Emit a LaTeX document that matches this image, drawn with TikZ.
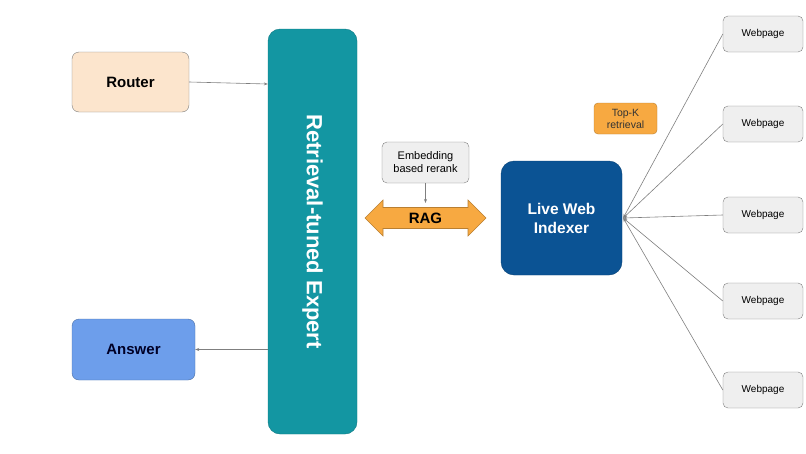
\documentclass[tikz,border=0pt]{standalone}
\usepackage{fontspec}
\setmainfont{Liberation Sans}
\usepackage{tikz}
\usetikzlibrary{arrows.meta, positioning, calc}
\usepackage{xcolor}
\definecolor{routerfill}{HTML}{FCE5CD}
\definecolor{answerfill}{HTML}{6D9EEB}
\definecolor{expertfill}{HTML}{1396A2}
\definecolor{indexerfill}{HTML}{0B5394}
\definecolor{ragfill}{HTML}{F7A941}
\definecolor{boxgray}{HTML}{EFEFEF}
\definecolor{linegray}{HTML}{7F7F7F}
\tikzset{
    box/.style = {draw = linegray, rounded corners = 7pt, align = center, inner sep = 0pt},
    page/.style = {box, fill = boxgray, minimum width = 80pt, minimum height = 36pt, rounded corners = 5pt, font = \fontsize{10}{12}\selectfont},
    conn/.style = {draw = linegray, line width = 0.6pt, -{Stealth[length = 4pt, width = 3pt]}}
}

\begin{document}
\begin{tikzpicture}[x = 1pt, y = -1pt]
    \useasboundingbox (0,0) rectangle (806,453);
    % Blocchi a sinistra
    \node[box, fill = routerfill, minimum width = 117pt, minimum height = 60pt, font = \bfseries\fontsize{15}{17}\selectfont] (Router) at (130.5,82) {Router};
    \node[box, fill = answerfill, draw = answerfill!70!black, minimum width = 123pt, minimum height = 61pt, font = \bfseries\fontsize{15}{17}\selectfont, text = black!85!blue] (Answer) at (133.5,349.5) {Answer};
    % Esperto
    \node[box, fill = expertfill, draw = expertfill!80!black, minimum width = 89pt, minimum height = 405pt, rounded corners = 12pt] (Expert) at (312.5,231.5) {};
    \node[rotate = -90, text = white, font = \bfseries\fontsize{22}{26}\selectfont] (ExpertText) at (Expert.center) {Retrieval-tuned Expert};
    % Frecce sinistra
    \draw[conn] (Router.east) -- ($(Router.east -| Expert.west) + (0,2)$);
    \draw[conn] (Answer.east -| Expert.west) -- (Answer.east);
    % RAG
    \node[box, fill = boxgray, minimum width = 87pt, minimum height = 41pt, rounded corners = 5pt, font = \fontsize{11}{13}\selectfont] (Rerank) at (425.5,162.5) {Embedding\\based rerank};
    \coordinate (RagLeft) at (365,218);
    \coordinate (RagRight) at (486,218);
    \draw[draw = ragfill!75!black, fill = ragfill, line width = 0.6pt] (RagLeft) -- (383,200) -- (383,207.5) -- (468,207.5) -- (468,200) -- (RagRight) -- (468,236) -- (468,228.5) -- (383,228.5) -- (383,236) -- cycle;
    \node[font = \bfseries\fontsize{15}{17}\selectfont] (RAG) at ($(RagLeft)!0.5!(RagRight)$) {RAG};
    \draw[conn] (Rerank.south) -- ($(RAG.center) + (0,-15)$);
    % Indicizzatore
    \node[box, fill = indexerfill, draw = indexerfill!80!black, minimum width = 121pt, minimum height = 114pt, rounded corners = 13pt, text = white, font = \bfseries\fontsize{15.5}{19}\selectfont] (Indexer) at (561.5,218) {Live Web\\Indexer};
    \node[box, fill = ragfill, draw = ragfill!75!black, minimum width = 63pt, minimum height = 31pt, rounded corners = 4pt, font = \fontsize{10.5}{12}\selectfont, text = black!80] (TopK) at (625.5,118.5) {Top-K\\retrieval};
    % Pagine web
    \node[page] (PageOne) at (763,34) {Webpage};
    \node[page] (PageTwo) at (763,124) {Webpage};
    \node[page] (PageThree) at (763,215) {Webpage};
    \node[page] (PageFour) at (763,301) {Webpage};
    \node[page] (PageFive) at (763,390) {Webpage};
    % Collegamenti
    \coordinate (Hub) at ($(Indexer.east) + (1,0)$);
    \draw[conn] (PageOne.west) -- (Hub);
    \draw[conn] (PageTwo.west) -- (Hub);
    \draw[conn] (PageThree.west) -- (Hub);
    \draw[conn] (PageFour.west) -- (Hub);
    \draw[conn] (PageFive.west) -- (Hub);
\end{tikzpicture}
\end{document}
